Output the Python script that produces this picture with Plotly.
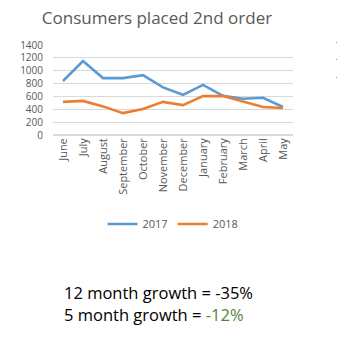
import plotly.graph_objects as go

months = ["June", "July", "August", "September", "October", "November",
          "December", "January", "February", "March", "April", "May"]
orders_2017 = [840, 1150, 885, 885, 930, 740, 625, 780, 610, 565, 580, 435]
orders_2018 = [515, 530, 445, 340, 405, 515, 465, 605, 605, 515, 435, 420]
y_ticks = [0, 200, 400, 600, 800, 1000, 1200, 1400]

W, H = 337, 344
L, R, T, B = 53, 44, 45, 209
PW, PH = W - L - R, H - T - B
FONT = "Open Sans"


def px(x):
    return (x - L) / PW


def py(y):
    return (H - B - y) / PH


fig = go.Figure()
fig.add_trace(go.Scatter(x=months, y=orders_2017, name="2017", mode="lines",
                         line=dict(color="#5B9BD5", width=2.6)))
fig.add_trace(go.Scatter(x=months, y=orders_2018, name="2018", mode="lines",
                         line=dict(color="#ED7D31", width=2.6)))

fig.update_layout(
    width=W, height=H,
    margin=dict(l=L, r=R, t=T, b=B),
    paper_bgcolor="white", plot_bgcolor="white",
    font=dict(family=FONT, color="#595959", size=11),
    title=dict(text="Consumers placed 2nd order", x=157 / W, xanchor="center",
               y=1 - 18 / H, yanchor="middle",
               font=dict(family=FONT, size=17, color="#595959")),
    xaxis=dict(type="category", range=[-0.5, 11.5], tickangle=-90,
               showgrid=False, showline=False, ticks="",
               tickfont=dict(size=11, color="#595959")),
    yaxis=dict(range=[0, 1400], tickvals=y_ticks, showgrid=True,
               gridcolor="#D9D9D9", gridwidth=1, zeroline=True,
               zerolinecolor="#D9D9D9", showline=False, ticks="",
               ticklabelstandoff=9,
               tickfont=dict(size=10, color="#595959")),
    legend=dict(orientation="h", x=0.5, xanchor="center",
                y=py(224), yanchor="middle",
                font=dict(size=11, color="#595959"),
                itemwidth=30, tracegroupgap=0),
    showlegend=True,
)

# growth summary lines below the chart
fig.add_annotation(text="12 month growth = -35%", xref="paper", yref="paper",
                   x=px(62), xanchor="left", y=py(292), yanchor="middle",
                   showarrow=False,
                   font=dict(family=FONT, size=16.5, color="#000000"))
fig.add_annotation(text="5 month growth = <span style='color:#548235'>-12%</span>",
                   xref="paper", yref="paper",
                   x=px(62), xanchor="left", y=py(314), yanchor="middle",
                   showarrow=False,
                   font=dict(family=FONT, size=16.5, color="#000000"))

# labels of a neighbouring panel, cut by the right edge
for yy in (44.5, 61.5, 79.5):
    fig.add_annotation(text="1", xref="paper", yref="paper",
                       x=px(333), xanchor="left", y=py(yy), yanchor="middle",
                       showarrow=False,
                       font=dict(family=FONT, size=10, color="#595959"))

fig.write_html("out.html")
